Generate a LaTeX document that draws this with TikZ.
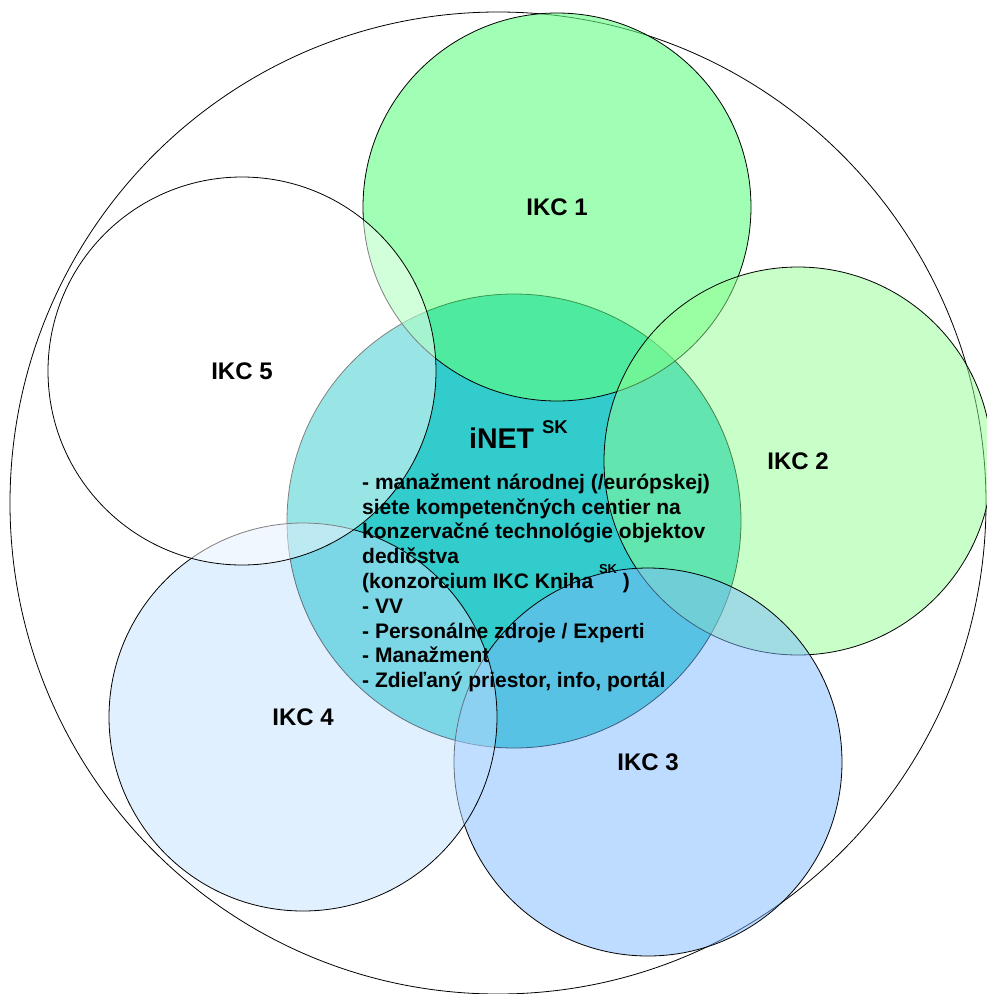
\documentclass[tikz,border=0pt]{standalone}
\usepackage{fontspec}
\setmainfont{Liberation Sans}
\usetikzlibrary{shapes.geometric}
\definecolor{inetc}{RGB}{51,204,204}
\definecolor{cone}{RGB}{97,255,130}
\definecolor{ctwo}{RGB}{145,255,145}
\definecolor{cthree}{RGB}{125,185,255}
\definecolor{cfour}{RGB}{195,225,255}
\begin{document}
\begin{tikzpicture}[x=1pt,y=-1pt,
  ring/.style={circle, draw=black, line width=0.8pt, inner sep=0pt, minimum size=388pt,
    text opacity=1, font=\fontsize{24}{28}\selectfont\bfseries},
  bodytext/.style={inner sep=0pt, align=left, font=\fontsize{21}{24.8}\selectfont\bfseries}
]
\useasboundingbox (0,0) rectangle (986,994);
\node[ellipse, draw=black, line width=0.8pt, inner sep=0pt, minimum width=976pt, minimum height=982pt] (outer) at (498,503) {};
\node[circle, draw=black, line width=0.8pt, fill=inetc, inner sep=0pt, minimum size=454pt] (inet) at (514,521) {};
\node[ring, fill=cone, fill opacity=0.6] (ikc1) at (557,207) {IKC 1};
\node[ring, fill=ctwo, fill opacity=0.5] (ikc2) at (798,461) {IKC 2};
\node[ring, fill=cthree, fill opacity=0.5] (ikc3) at (648,762) {IKC 3};
\node[ring, fill=cfour, fill opacity=0.5] (ikc4) at (303,717) {IKC 4};
\node[ring, fill=white, fill opacity=0.5] (ikc5) at (242,371) {IKC 5};
\node[anchor=base west, inner sep=0pt, font=\fontsize{28.5}{34}\selectfont\bfseries] (title) at (469,448)
  {iNET {\fontsize{18.5}{20}\selectfont\raisebox{15pt}{SK}}};
\node[bodytext, anchor=north west] (body) at (362,473.5)
  {- manažment národnej (/európskej)\\
   siete kompetenčných centier na\\
   konzervačné technológie objektov\\
   dedičstva\\
   (konzorcium IKC Kniha {\fontsize{13}{14}\selectfont\raisebox{15pt}{SK}} )\\
   - VV\\
   - Personálne zdroje / Experti\\
   - Manažment\\
   - Zdieľaný priestor, info, portál};
\end{tikzpicture}
\end{document}
